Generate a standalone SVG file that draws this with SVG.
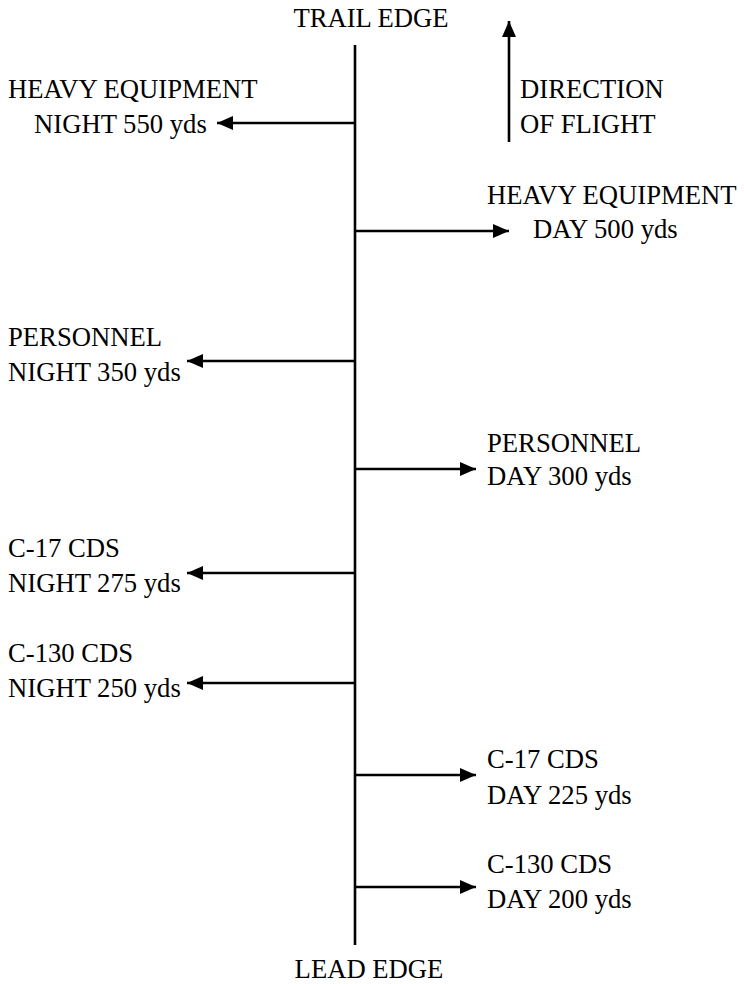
<svg xmlns="http://www.w3.org/2000/svg" width="744" height="984" viewBox="0 0 744 984">
<defs>
<marker id="ah" viewBox="0 0 16 14" refX="16" refY="7" markerWidth="16" markerHeight="14" markerUnits="userSpaceOnUse" orient="auto">
<path d="M0,0 L16,7 L0,14 Z" fill="#000"/>
</marker>
</defs>
<style>
text{font-family:"Liberation Serif","Times New Roman",serif;font-size:26.67px;fill:#000}
.c{text-anchor:middle}
line{stroke:#000;stroke-width:2.6}
.a{marker-end:url(#ah)}
</style>
<rect width="744" height="984" fill="#fff"/>
<g id="connectors">
<line x1="355" y1="45" x2="355" y2="945"/>
<line class="a" x1="509" y1="142" x2="509" y2="21"/>
<line class="a" x1="355" y1="123" x2="217" y2="123"/>
<line class="a" x1="355" y1="231" x2="509" y2="231"/>
<line class="a" x1="355" y1="361" x2="187" y2="361"/>
<line class="a" x1="355" y1="469" x2="476" y2="469"/>
<line class="a" x1="355" y1="573" x2="187" y2="573"/>
<line class="a" x1="355" y1="683" x2="187" y2="683"/>
<line class="a" x1="355" y1="775" x2="476" y2="775"/>
<line class="a" x1="355" y1="887" x2="476" y2="887"/>
</g>
<g id="trail"><text class="c" x="371" y="27">TRAIL EDGE</text></g>
<g id="lead"><text class="c" x="369" y="978">LEAD EDGE</text></g>
<g id="direction"><text x="520" y="98">DIRECTION</text><text x="520" y="133">OF FLIGHT</text></g>
<g id="he-night"><text x="8" y="98">HEAVY EQUIPMENT</text><text x="34" y="133">NIGHT 550 yds</text></g>
<g id="he-day"><text x="487" y="204">HEAVY EQUIPMENT</text><text x="533" y="238">DAY 500 yds</text></g>
<g id="pers-night"><text x="8" y="346">PERSONNEL</text><text x="8" y="381">NIGHT 350 yds</text></g>
<g id="pers-day"><text x="487" y="452">PERSONNEL</text><text x="487" y="485">DAY 300 yds</text></g>
<g id="c17-night"><text x="8" y="557">C-17 CDS</text><text x="8" y="592">NIGHT 275 yds</text></g>
<g id="c130-night"><text x="8" y="662">C-130 CDS</text><text x="8" y="697">NIGHT 250 yds</text></g>
<g id="c17-day"><text x="487" y="768">C-17 CDS</text><text x="487" y="804">DAY 225 yds</text></g>
<g id="c130-day"><text x="487" y="873">C-130 CDS</text><text x="487" y="908">DAY 200 yds</text></g>
</svg>
